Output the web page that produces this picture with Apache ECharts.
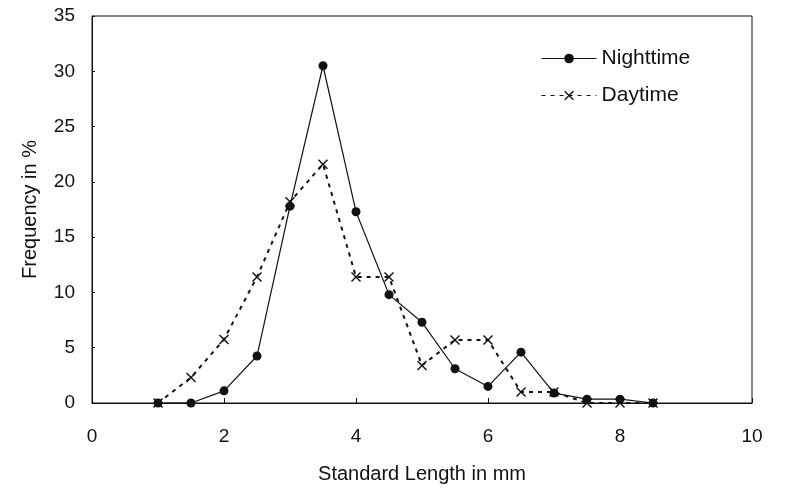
<!DOCTYPE html>
<html><head><meta charset="utf-8">
<script src="https://cdn.jsdelivr.net/npm/echarts@6/dist/echarts.min.js"></script>
<style>html,body{margin:0;padding:0;background:#fff;}#c{width:787px;height:494px;}</style>
</head><body><div id="c"></div>
<script>
const lengths = [1, 1.5, 2, 2.5, 3, 3.5, 4, 4.5, 5, 5.5, 6, 6.5, 7, 7.5, 8, 8.5];
const nighttime = [0, 0, 1.1, 4.25, 17.8, 30.5, 17.3, 9.8, 7.3, 3.1, 1.5, 4.6, 0.9, 0.35, 0.35, 0];
const daytime = [0, 2.3, 5.75, 11.4, 18.2, 21.6, 11.4, 11.4, 3.4, 5.7, 5.7, 1.0, 1.0, 0, 0, 0];
const xTicks = [0, 2, 4, 6, 8, 10];
const yTicks = [0, 5, 10, 15, 20, 25, 30, 35];

const font = 'Liberation Sans, Arial, sans-serif';
const xPath = 'path://M0,1 L1,0 L5,4 L9,0 L10,1 L6,5 L10,9 L9,10 L5,6 L1,10 L0,9 L4,5 Z';
const chart = echarts.init(document.getElementById('c'));
chart.setOption({
  animation: false,
  backgroundColor: '#fff',
  grid: {left: 92, right: 35, top: 16, bottom: 91, show: true, borderColor: '#111', borderWidth: 1},
  legend: {
    orient: 'vertical', left: 536, top: 43, itemWidth: 55, itemHeight: 12, itemGap: 16,
    textStyle: {fontFamily: font, fontSize: 21, color: '#111'},
    lineStyle: {width: 1.1},
    data: ['Nighttime', 'Daytime']
  },
  xAxis: {
    type: 'value', min: xTicks[0], max: xTicks[xTicks.length-1], interval: 2,
    name: 'Standard Length in mm', nameLocation: 'middle', nameGap: 61,
    nameTextStyle: {fontFamily: font, fontSize: 20, color: '#111'},
    axisLine: {lineStyle: {color: '#111', width: 1}},
    axisTick: {inside: true, length: 5, lineStyle: {color: '#111'}},
    axisLabel: {margin: 24, fontFamily: font, fontSize: 19, color: '#111'},
    splitLine: {show: false}
  },
  yAxis: {
    type: 'value', min: yTicks[0], max: yTicks[yTicks.length-1], interval: 5,
    name: 'Frequency in %', nameLocation: 'middle', nameGap: 52,
    nameTextStyle: {fontFamily: font, fontSize: 20, color: '#111'},
    axisLine: {show: true, lineStyle: {color: '#111', width: 1}},
    axisTick: {show: true, inside: true, length: 3, lineStyle: {color: '#111'}},
    axisLabel: {margin: 17, fontFamily: font, fontSize: 19, color: '#111'},
    splitLine: {show: false}
  },
  series: [
    {
      name: 'Nighttime', type: 'line', data: lengths.map((x, i) => [x, nighttime[i]]),
      symbol: 'circle', symbolSize: 9,
      lineStyle: {color: '#111', width: 1.2},
      itemStyle: {color: '#111'}, z: 3
    },
    {
      name: 'Daytime', type: 'line', data: lengths.map((x, i) => [x, daytime[i]]),
      symbol: xPath, symbolSize: 10,
      lineStyle: {color: '#111', width: 2, type: [4, 5]},
      itemStyle: {color: '#111'}, z: 2
    }
  ]
});
</script></body></html>
